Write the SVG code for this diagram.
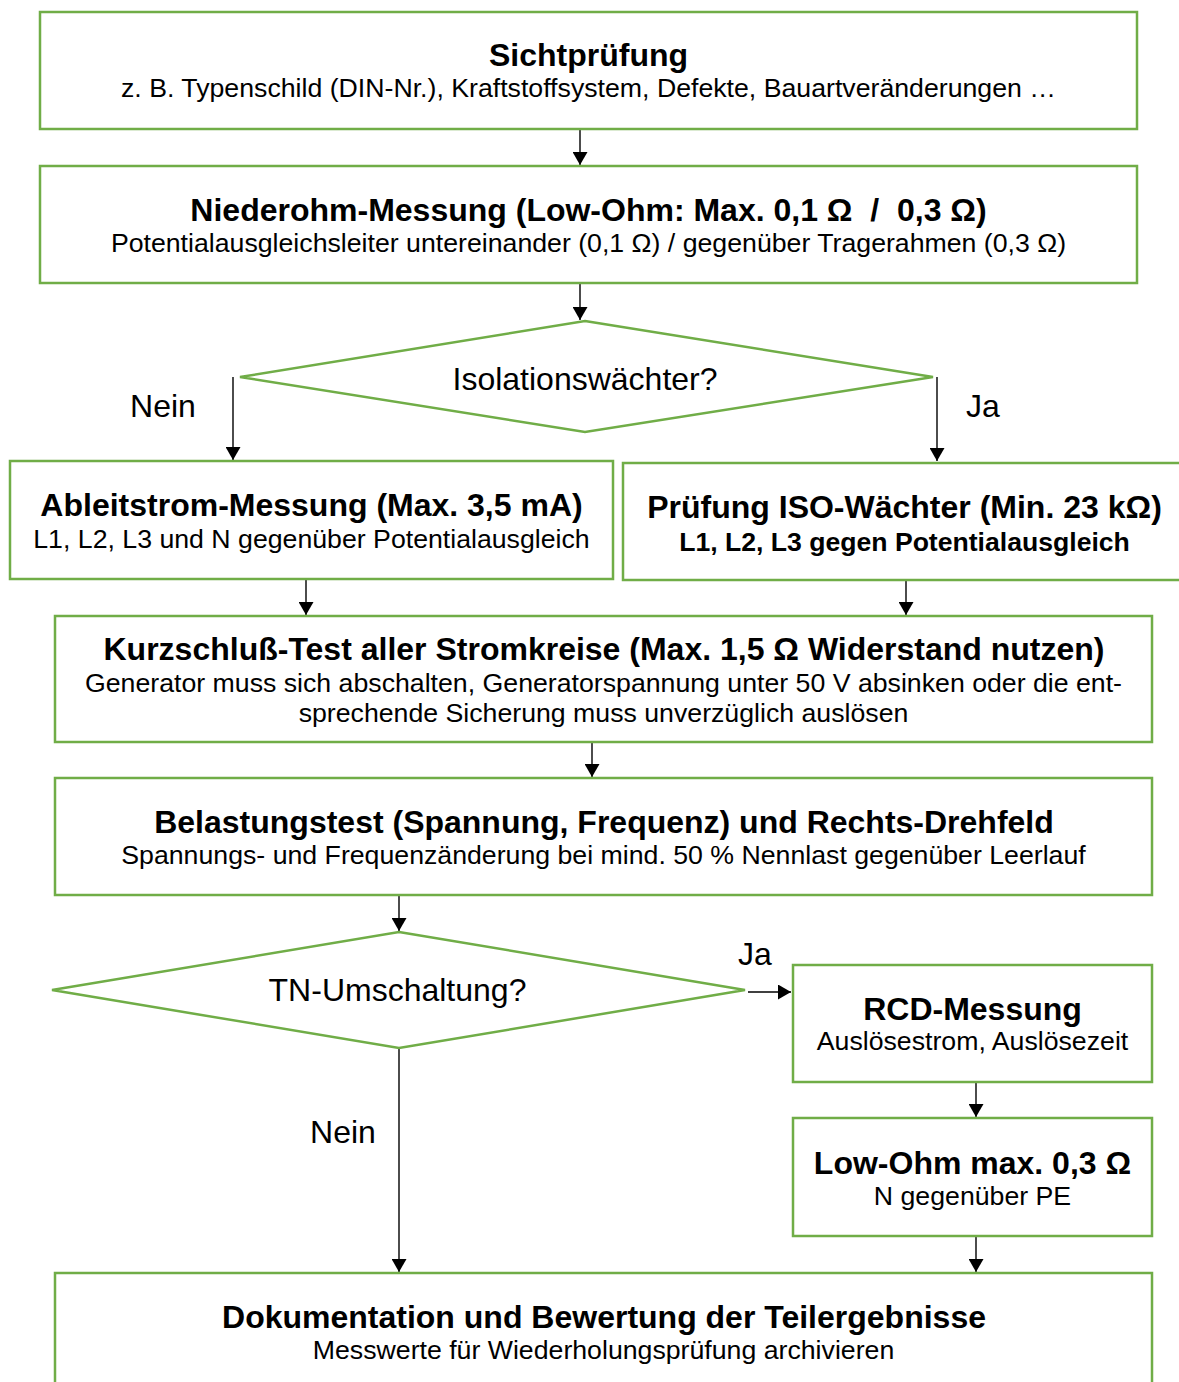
<svg xmlns="http://www.w3.org/2000/svg" width="1179" height="1382" viewBox="0 0 1179 1382">
<style>
.box{fill:#fff;stroke:#70AD47;stroke-width:2.5}
.t{font-family:"Liberation Sans",Arial,sans-serif;font-weight:bold;font-size:32px;fill:#000;text-anchor:middle}
.s{font-family:"Liberation Sans",Arial,sans-serif;font-size:26.7px;fill:#000;text-anchor:middle}
.sb{font-family:"Liberation Sans",Arial,sans-serif;font-size:26.6px;font-weight:bold;fill:#000;text-anchor:middle}
.l{font-family:"Liberation Sans",Arial,sans-serif;font-size:32px;fill:#000}
.c{stroke:#000;stroke-width:1.4;fill:none;marker-end:url(#ah)}
</style>
<defs>
<marker id="ah" viewBox="0 0 13 15" refX="13" refY="7.5" markerWidth="13" markerHeight="15" markerUnits="userSpaceOnUse" orient="auto">
<path d="M0,0 L13,7.5 L0,15 Z" fill="#000"/>
</marker>
</defs>
<rect width="1179" height="1382" fill="#fff"/>
<g id="connectors">
<line class="c" x1="580" y1="129" x2="580" y2="165"/>
<line class="c" x1="580" y1="283" x2="580" y2="320"/>
<line class="c" x1="233" y1="377" x2="233" y2="460"/>
<line class="c" x1="937" y1="377" x2="937" y2="461"/>
<line class="c" x1="306" y1="579" x2="306" y2="615"/>
<line class="c" x1="906" y1="580" x2="906" y2="615"/>
<line class="c" x1="592" y1="742" x2="592" y2="777"/>
<line class="c" x1="399" y1="895" x2="399" y2="931"/>
<line class="c" x1="748" y1="992" x2="791" y2="992"/>
<line class="c" x1="976" y1="1082" x2="976" y2="1117"/>
<line class="c" x1="976" y1="1236" x2="976" y2="1272"/>
<line class="c" x1="399" y1="1048" x2="399" y2="1272"/>
<text class="l" x="163" y="417" text-anchor="middle">Nein</text>
<text class="l" x="983" y="417" text-anchor="middle">Ja</text>
<text class="l" x="755" y="965" text-anchor="middle">Ja</text>
<text class="l" x="343" y="1143" text-anchor="middle">Nein</text>
</g>
<g id="sichtpruefung">
<rect class="box" x="40" y="12" width="1097" height="117"/>
<text class="t" x="588.5" y="66">Sichtprüfung</text>
<text class="s" x="588.5" y="97">z. B. Typenschild (DIN-Nr.), Kraftstoffsystem, Defekte, Bauartveränderungen …</text>
</g>
<g id="niederohm">
<rect class="box" x="40" y="166" width="1097" height="117"/>
<text class="t" x="588.5" y="221" xml:space="preserve">Niederohm-Messung (Low-Ohm: Max. 0,1 Ω  /  0,3 Ω)</text>
<text class="s" x="588.5" y="252">Potentialausgleichsleiter untereinander (0,1 Ω) / gegenüber Tragerahmen (0,3 Ω)</text>
</g>
<g id="isolationswaechter">
<polygon class="box" points="585,321 933,377 585,432 240,377"/>
<text class="l" x="585" y="390" text-anchor="middle">Isolationswächter?</text>
</g>
<g id="ableitstrom">
<rect class="box" x="10" y="461" width="603" height="118"/>
<text class="t" x="311.5" y="516">Ableitstrom-Messung (Max. 3,5 mA)</text>
<text class="s" x="311.5" y="548">L1, L2, L3 und N gegenüber Potentialausgleich</text>
</g>
<g id="iso-waechter">
<rect class="box" x="623" y="463" width="563" height="117"/>
<text class="t" x="904.5" y="518">Prüfung ISO-Wächter (Min. 23 kΩ)</text>
<text class="sb" x="904.5" y="551">L1, L2, L3 gegen Potentialausgleich</text>
</g>
<g id="kurzschluss">
<rect class="box" x="55" y="616" width="1097" height="126"/>
<text class="t" x="604" y="660">Kurzschluß-Test aller Stromkreise (Max. 1,5 Ω Widerstand nutzen)</text>
<text class="s" x="603.5" y="692">Generator muss sich abschalten, Generatorspannung unter 50 V absinken oder die ent-</text>
<text class="s" x="603.5" y="722">sprechende Sicherung muss unverzüglich auslösen</text>
</g>
<g id="belastungstest">
<rect class="box" x="55" y="778" width="1097" height="117"/>
<text class="t" x="604" y="833">Belastungstest (Spannung, Frequenz) und Rechts-Drehfeld</text>
<text class="s" x="603.5" y="864">Spannungs- und Frequenzänderung bei mind. 50 % Nennlast gegenüber Leerlauf</text>
</g>
<g id="tn-umschaltung">
<polygon class="box" points="399,932 745,990 399,1048 52,990"/>
<text class="l" x="397.5" y="1001" text-anchor="middle">TN-Umschaltung?</text>
</g>
<g id="rcd">
<rect class="box" x="793" y="965" width="359" height="117"/>
<text class="t" x="972.5" y="1020">RCD-Messung</text>
<text class="s" x="972.5" y="1050">Auslösestrom, Auslösezeit</text>
</g>
<g id="low-ohm">
<rect class="box" x="793" y="1118" width="359" height="118"/>
<text class="t" x="972.5" y="1174">Low-Ohm max. 0,3 Ω</text>
<text class="s" x="972.5" y="1205">N gegenüber PE</text>
</g>
<g id="dokumentation">
<rect class="box" x="55" y="1273" width="1097" height="130"/>
<text class="t" x="604" y="1328">Dokumentation und Bewertung der Teilergebnisse</text>
<text class="s" x="603.5" y="1359">Messwerte für Wiederholungsprüfung archivieren</text>
</g>
</svg>
